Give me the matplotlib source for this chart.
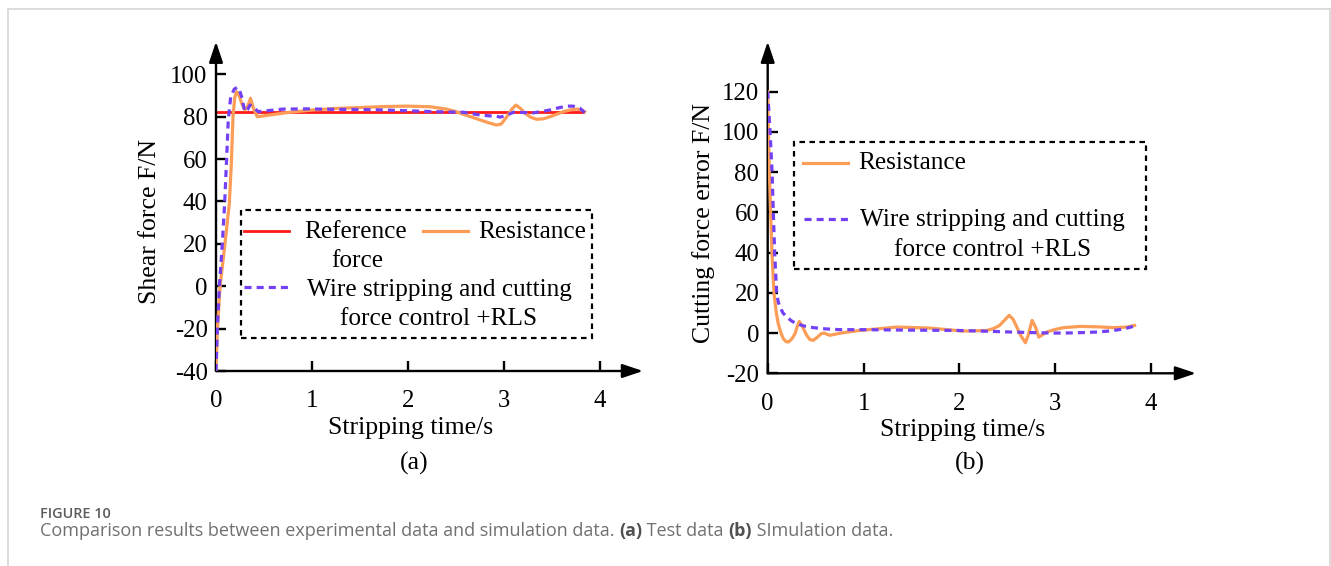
import matplotlib
matplotlib.use('Agg')
import matplotlib.pyplot as plt
from matplotlib.lines import Line2D
from matplotlib.patches import Rectangle

W, H = 1331, 566
SERIF = 'Liberation Serif'
plt.rcParams['font.family'] = SERIF
plt.rcParams['axes.unicode_minus'] = False

# ---- data: (a) test data ----
a_ref_t = [0.0, 3.82]
a_ref_v = [82.0, 82.0]

a_res_t = [0.0, 0.014, 0.042, 0.094, 0.139, 0.16, 0.177, 0.195, 0.215, 0.24, 0.27, 0.30, 0.33, 0.36,
           0.39, 0.43, 0.56, 0.75, 1.01, 1.25, 1.53, 1.75, 1.99, 2.23, 2.4, 2.5, 2.62, 2.75, 2.85,
           2.92, 2.97, 3.03, 3.08, 3.125, 3.17, 3.22, 3.28, 3.34, 3.41, 3.48, 3.55, 3.62, 3.7, 3.76, 3.8, 3.84]
a_res_v = [-40, -20.6, -0.2, 20.3, 39.1, 58, 80, 89, 91.8, 90, 86, 83.2, 85, 88.7,
           84, 80, 80.8, 82, 83.2, 83.9, 84.4, 84.8, 85, 84.7, 83.6, 82.4, 80.5, 78.5, 77,
           76.1, 76.5, 80, 83.5, 85.5, 84, 81.6, 79.7, 78.8, 79, 80, 81.2, 82.4, 83.3, 83.6, 83.3, 82.4]

a_rls_t = [0.0, 0.014, 0.035, 0.066, 0.09, 0.11, 0.128, 0.153, 0.19, 0.222, 0.245, 0.267, 0.30,
           0.33, 0.354, 0.40, 0.44, 0.55, 0.70, 0.95, 1.22, 1.5, 1.74, 2.0, 2.26, 2.58, 2.75,
           2.85, 2.92, 2.96, 3.02, 3.1, 3.2, 3.3, 3.4, 3.48, 3.56, 3.65, 3.72, 3.79, 3.84]
a_rls_v = [-40, -20.6, -0.2, 20.3, 39.1, 59.6, 78.5, 89.4, 93, 93.9, 92.5, 89.4, 82.4,
           83.5, 85.5, 84, 82.4, 82.9, 83.6, 83.7, 83.5, 83.4, 83.2, 82.8, 82.4, 82.1, 80.8,
           80.4, 80.3, 79.8, 80.6, 82.1, 82.0, 81.8, 82.5, 83.2, 84.1, 85, 85, 84, 82]

# ---- data: (b) simulation data ----
b_res_t = [0.0, 0.007, 0.017, 0.031, 0.045, 0.066, 0.09, 0.11, 0.135, 0.163, 0.19, 0.215, 0.25,
           0.285, 0.31, 0.33, 0.36, 0.407, 0.44, 0.476, 0.52, 0.558, 0.588, 0.62, 0.65, 0.72,
           0.79, 0.96, 1.17, 1.35, 1.69, 2.04, 2.29, 2.36, 2.42, 2.48, 2.52, 2.56, 2.6, 2.645,
           2.69, 2.72, 2.76, 2.795, 2.83, 2.87, 2.91, 3.0, 3.09, 3.26, 3.45, 3.61, 3.75, 3.83]
b_res_v = [120, 100.8, 80.9, 59.4, 39.5, 19.6, 10, 4.7, 0.5, -2.8, -4.2, -4.5, -3,
           -0.3, 3.5, 5.8, 3.5, -1.1, -3.2, -3.6, -2, -0.3, 0, -0.6, -1.1, -0.4,
           0.2, 1.3, 2.2, 3, 2.5, 1, 1.3, 2.3, 3.8, 6.8, 8.8, 7, 3, -1.5,
           -4.8, -1, 6.3, 3, -2, -0.8, 0.5, 1.8, 2.7, 3.3, 3.1, 2.7, 3.0, 3.8]

b_rls_t = [0.0, 0.024, 0.045, 0.059, 0.073, 0.094, 0.11, 0.128, 0.16, 0.198, 0.25, 0.30, 0.38,
           0.476, 0.6, 0.755, 1.0, 1.4, 1.99, 2.3, 2.56, 2.8, 2.98, 3.2, 3.43, 3.58, 3.68, 3.76, 3.83]
b_rls_v = [120, 100.8, 80.9, 59.4, 39.5, 19.6, 15.5, 12.9, 10, 8, 6, 4.7, 3.5,
           2.7, 2.1, 1.7, 1.7, 1.5, 1.3, 0.9, 0.5, 0.2, 0, 0.1, 0.5, 1.1, 1.8, 2.6, 3.5]

y_ticks_a = [-40, -20, 0, 20, 40, 60, 80, 100]
y_ticks_b = [-20, 0, 20, 40, 60, 80, 100, 120]
x_ticks = [0, 1, 2, 3, 4]

RED = '#ff1a1a'
ORANGE = '#fb9d56'
BLUE = '#7340f5'
DASH = (0, (2.2, 1.6))
LEG = 18.2


def fx(px):
    return px / W


def fy(py):
    return 1 - py / H


fig = plt.figure(figsize=(W / 100, H / 100), dpi=100)

# light frame around the figure panel (top, left, right)
frame = dict(transform=fig.transFigure, color='#d6d6d6', lw=1.2)
fig.lines.append(Line2D([fx(7.5), fx(1329.5)], [fy(8.5), fy(8.5)], **frame))
fig.lines.append(Line2D([fx(7.5), fx(7.5)], [fy(8.5), 0], **frame))
fig.lines.append(Line2D([fx(1329.5), fx(1329.5)], [fy(8.5), 0], **frame))


def make_axes(x0, ybot, xpx, ypx, xlim, ylim):
    ax = fig.add_axes([fx(x0), fy(ybot), (xpx - x0) / W, (ybot - ypx) / H])
    ax.set_xlim(*xlim)
    ax.set_ylim(*ylim)
    for s in ['top', 'right', 'left', 'bottom']:
        ax.spines[s].set_visible(False)
    arrow = dict(arrowstyle='-|>,head_length=1.25,head_width=0.42', color='black',
                 lw=1.7, shrinkA=0, shrinkB=0)
    ax.annotate('', xy=(1, 0), xytext=(0, 0), xycoords='axes fraction', arrowprops=arrow)
    ax.annotate('', xy=(0, 1), xytext=(0, 0), xycoords='axes fraction', arrowprops=arrow)
    ax.tick_params(direction='in', length=7, width=1.7, labelsize=17.8)
    ax.tick_params(axis='x', pad=14)
    ax.tick_params(axis='y', pad=6)
    ax.set_facecolor('none')
    return ax


# ---- panel (a) ----
ax1 = make_axes(216, 371, 643, 41.7, (0, 427 / 96), (-40, -40 + 329.3 / 2.119))
ax1.set_yticks(y_ticks_a)
ax1.set_xticks(x_ticks)
ax1.plot(a_ref_t, a_ref_v, color=RED, lw=2, zorder=2)
ax1.plot(a_res_t, a_res_v, color=ORANGE, lw=2.3, zorder=3)
ax1.plot(a_rls_t, a_rls_v, color=BLUE, lw=2.3, linestyle=DASH, zorder=4)

# ---- panel (b) ----
ax2 = make_axes(767.7, 373.3, 1196, 41.7, (0, 428.3 / 95.8), (-20, -20 + 331.6 / 2.011))
ax2.set_yticks(y_ticks_b)
ax2.set_xticks(x_ticks)
ax2.plot(b_res_t, b_res_v, color=ORANGE, lw=2.3, zorder=3)
ax2.plot(b_rls_t, b_rls_v, color=BLUE, lw=2.3, linestyle=DASH, zorder=4)


def txt(x, y, s, size=LEG, **kw):
    fig.text(fx(x), fy(y), s, fontsize=size, family=SERIF, va='center', **kw)


# axis labels
txt(150.5, 222, 'Shear force F/N', size=18.5, ha='center', rotation=90)
txt(411, 428, 'Stripping time/s', size=18.5, ha='center')
txt(414, 463, '(a)', size=18.5, ha='center')
txt(704, 223, 'Cutting force error F/N', size=18.5, ha='center', rotation=90)
txt(963, 430, 'Stripping time/s', size=18.5, ha='center')
txt(970, 463, '(b)', size=18.5, ha='center')


def box(x0, y0, x1, y1):
    fig.patches.append(Rectangle((fx(x0), fy(y1)), fx(x1) - fx(x0), fy(y0) - fy(y1),
                                 transform=fig.transFigure, fill=False, edgecolor='black',
                                 lw=1.6, linestyle=(0, (2.5, 2))))


def sample(x0, x1, y, **kw):
    fig.lines.append(Line2D([fx(x0), fx(x1)], [fy(y), fy(y)], transform=fig.transFigure, **kw))


# legend (a)
box(240.7, 210, 592, 338)
sample(244, 289, 231, color=RED, lw=2)
txt(356, 231.7, 'Reference', ha='center')
txt(357, 261, 'force', ha='center')
sample(423, 468, 231, color=ORANGE, lw=2.3)
txt(478, 231.7, 'Resistance', ha='left')
sample(244, 289, 287.3, color=BLUE, lw=2.3, linestyle=DASH)
txt(439, 290, 'Wire stripping and cutting', ha='center')
txt(439, 319.3, 'force control +RLS', ha='center')

# legend (b)
box(794, 141.7, 1146, 269)
sample(803, 848, 162.7, color=ORANGE, lw=2.3)
txt(858, 162.7, 'Resistance', ha='left')
sample(804, 850, 219, color=BLUE, lw=2.3, linestyle=DASH)
txt(992.5, 220, 'Wire stripping and cutting', ha='center')
txt(992.5, 250, 'force control +RLS', ha='center')

# caption
fig.text(fx(40), fy(513.5), 'FIGURE 10', fontsize=10.4, family='Open Sans', fontweight='semibold',
         color='#5c5c5c', va='center', ha='left')
cap = fig.text(fx(40), fy(531), 'Comparison results between experimental data and simulation data. ',
               fontsize=13, family='Open Sans', color='#707070', va='center', ha='left')
fig.canvas.draw()
r = fig.canvas.get_renderer()
x = cap.get_window_extent(r).x1
for piece, bold in [('(a)', True), (' Test data ', False), ('(b)', True), (' SImulation data.', False)]:
    t = fig.text(x / W, fy(531), piece, fontsize=13, family='Open Sans',
                 fontweight='bold' if bold else 'normal',
                 color='#505050' if bold else '#707070', va='center', ha='left')
    x = t.get_window_extent(r).x1

plt.savefig('out.png', dpi=100)
